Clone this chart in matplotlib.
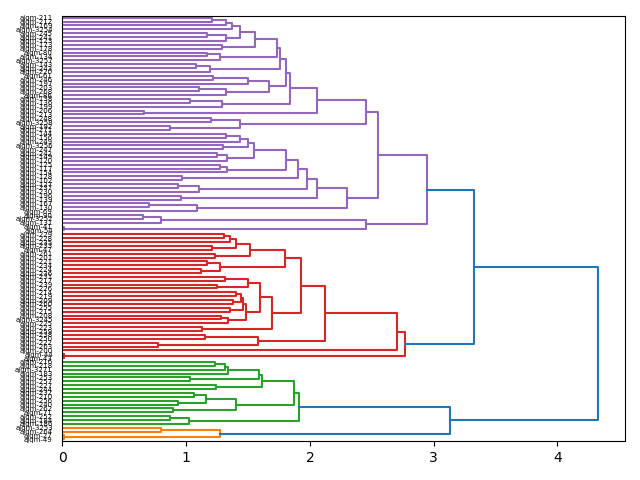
import matplotlib
matplotlib.use("Agg")
import matplotlib.pyplot as plt

# dendrogram
# node = [merge height, upper child, lower child], leaf = ajqm sample id

# purple cluster
pa = [1.435, [1.37, [1.32, [1.21, 211, 212], 169], 3254], [1.32, [1.17, 245, 241], 123]]
pb = [1.56, pa, [1.29, 173, 178]]
pc = [1.73, pb, [1.27, [1.17, 80, 134], 3257]]
pd = [1.76, pc, [1.19, [1.08, 143, 243], 220]]
pe = [1.81, pd, [1.67, [1.50, [1.22, 61, 246], 197], [1.32, [1.10, 203, 268], 86]]]
pf = [2.06, [1.84, pe, [1.29, [1.03, 138, 136], 199]], [0.66, 206, 213]]
pg = [2.45, pf, [1.435, [1.20, 248, 3258], [0.87, 192, 271]]]
ph = [1.81, [1.55, [1.50, [1.435, [1.32, 144, 156], 249], [1.30, 3256, 247]],
             [1.33, [1.25, 242, 149], 120]],
      [1.33, [1.27, 125, 117], 154]]
pi = [2.30, [2.06, [1.98, [1.90, ph, [0.97, 128, 102]], [1.10, [0.93, 127, 237], 230]],
             [0.96, 196, 139]],
      [1.09, [0.70, 167, 130], 69]]
purple = [2.95, [2.55, pg, pi], [2.45, [0.80, [0.65, 90, 3252], 131], [0.01, 41, 54]]]

# red cluster
ra = [1.516, [1.40, [1.355, [1.306, 229, 228], 235], [1.21, 233, 47]], [1.23, 261, 201]]
rb = [1.80, ra, [1.27, [1.17, 221, 234], [1.12, 224, 236]]]
rc = [1.48, [1.46, [1.44, [1.40, 214, 219], [1.38, 209, 260]], [1.35, 255, 215]],
      [1.34, [1.28, 208, 3245], 225]]
rd = [1.69, [1.60, [1.50, [1.31, 231, 217], [1.25, 239, 226]], rc], [1.13, 223, 259]]
rf = [1.58, [1.15, 238, 250], [0.77, 222, 263]]
red = [2.77, [2.70, [2.12, [1.93, rb, rd], rf], 200], [0.01, 44, 43]]

# green cluster
ga = [1.61, [1.59, [1.34, [1.31, [1.23, 216, 218], 3271], 183], [1.03, 253, 257]], [1.24, 227, 244]]
gb = [1.40, [1.16, [1.06, 232, 210], [0.93, 256, 240]], [0.89, 262, 71]]
green = [1.91, [1.87, ga, gb], [1.02, [0.87, 252, 184], 186]]

# orange cluster
orange = [1.27, [0.80, 3253, 264], [0.01, 27, 49]]

h_purple_red = 3.33
h_green_orange = 3.13
h_root = 4.33


def count(node):
    if isinstance(node, int):
        return 1
    return count(node[1]) + count(node[2])


n = count(purple) + count(red) + count(green) + count(orange)
labels = []
ticks = []

fig, ax = plt.subplots(figsize=(6.4, 4.8), dpi=100)


def link(h, ya, ha, yb, hb, color):
    ax.plot([ha, h, h, hb], [ya, ya, yb, yb], color=color, lw=1.5)


def draw(node, color):
    # leaves go top to bottom, scipy style positions 5, 15, 25...
    if isinstance(node, int):
        y = 10 * (n - 1 - len(labels)) + 5
        labels.append("ajqm-%d" % node)
        ticks.append(y)
        return y, 0.0
    ya, ha = draw(node[1], color)
    yb, hb = draw(node[2], color)
    link(node[0], ya, ha, yb, hb, color)
    return (ya + yb) / 2, node[0]


yp, hp = draw(purple, "C4")
yr, hr = draw(red, "C3")
yg, hg = draw(green, "C2")
yo, ho = draw(orange, "C1")

link(h_purple_red, yp, hp, yr, hr, "C0")
link(h_green_orange, yg, hg, yo, ho, "C0")
link(h_root, (yp + yr) / 2, h_purple_red, (yg + yo) / 2, h_green_orange, "C0")

ax.set_xlim(0, h_root * 1.05)
ax.set_ylim(0, 10 * n)
ax.set_yticks(ticks)
ax.set_yticklabels(labels, size=5)
for line in ax.get_yticklines():
    line.set_visible(False)

plt.tight_layout()
plt.savefig("out.png")
